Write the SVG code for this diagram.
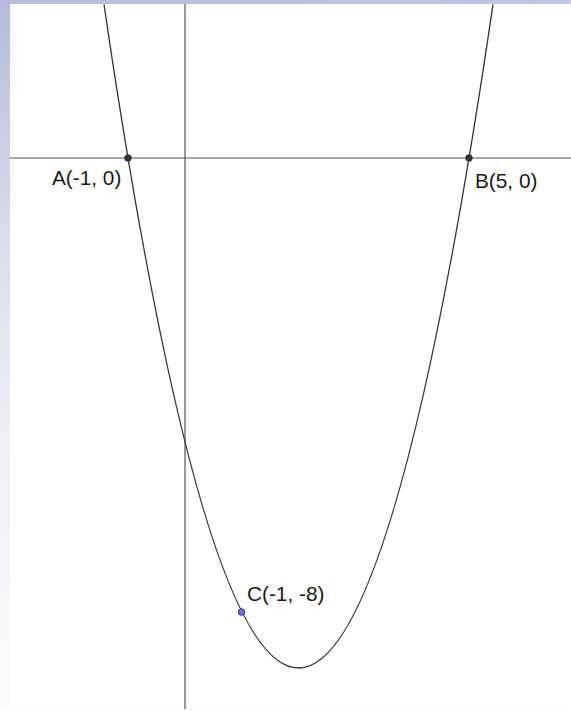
<svg xmlns="http://www.w3.org/2000/svg" width="571" height="711" viewBox="0 0 571 711">
  <defs>
    <linearGradient id="bg" x1="0" y1="0" x2="0" y2="1">
      <stop offset="0" stop-color="#b6b9d8"/>
      <stop offset="0.3" stop-color="#d6d9ea"/>
      <stop offset="0.6" stop-color="#eeeff4"/>
      <stop offset="1" stop-color="#fbfbfc"/>
    </linearGradient>
    <linearGradient id="topbar" x1="0" y1="0" x2="1" y2="0">
      <stop offset="0" stop-color="#b8bbd9"/>
      <stop offset="1" stop-color="#c4c6e4"/>
    </linearGradient>
    <clipPath id="plot">
      <rect x="10" y="4" width="561" height="705"/>
    </clipPath>
    <style>
      .axis { stroke: #555555; stroke-width: 1.2; fill: none; }
      .curve { stroke: #333333; stroke-width: 1.3; fill: none; }
      .pt { fill: #333333; stroke: #222222; stroke-width: 0.8; }
      .ptc { fill: #6f6ff5; stroke: #333366; stroke-width: 1; }
      .lbl { font-family: "Liberation Sans", Arial, sans-serif; font-size: 20.8px; fill: #1a1a1a; }
    </style>
  </defs>

  <rect x="0" y="0" width="571" height="711" fill="url(#bg)"/>
  <rect x="0" y="0" width="571" height="4" fill="url(#topbar)"/>
  <rect x="10" y="4" width="561" height="705" fill="#ffffff"/>

  <g id="connectors" clip-path="url(#plot)">
    <line id="x-axis" class="axis" x1="10" y1="158" x2="571" y2="158"/>
    <line id="y-axis" class="axis" x1="185" y1="4" x2="185" y2="709"/>
    <path id="parabola" class="curve" d="M104,4.3 Q298.5,1331.7 493,4.3"/>
  </g>

  <g id="A">
    <circle class="pt" cx="128" cy="158" r="3.3"/>
    <text class="lbl" x="52" y="185">A(-1, 0)</text>
  </g>
  <g id="B">
    <circle class="pt" cx="469" cy="158" r="3.3"/>
    <text class="lbl" x="475" y="188">B(5, 0)</text>
  </g>
  <g id="C">
    <circle class="ptc" cx="241.5" cy="612" r="3.3"/>
    <text class="lbl" x="247" y="601">C(-1, -8)</text>
  </g>
</svg>
